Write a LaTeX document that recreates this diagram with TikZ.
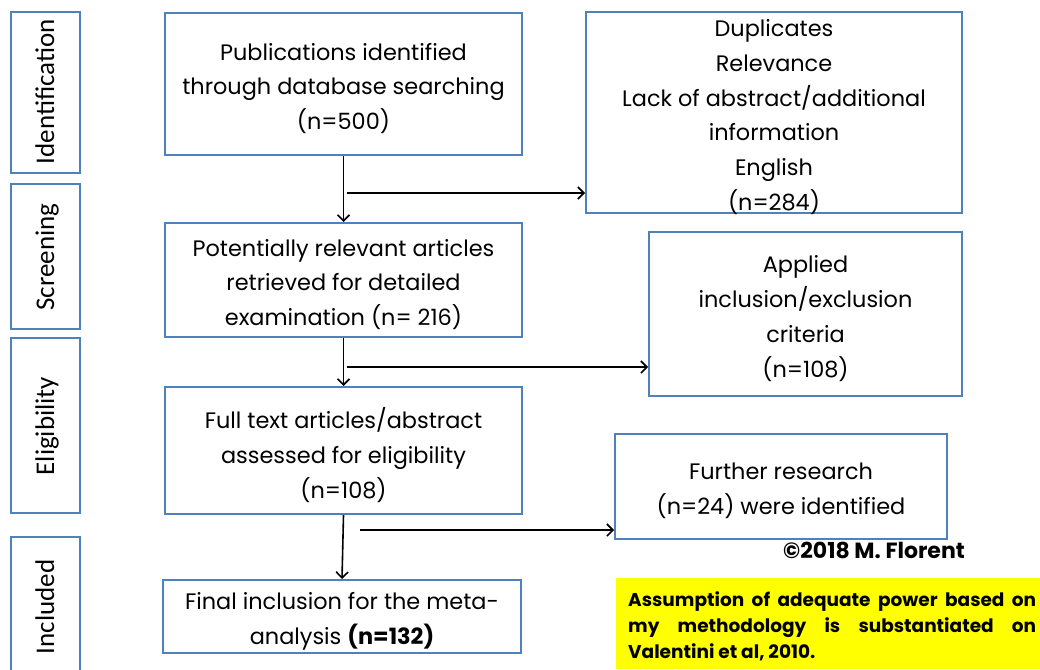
\documentclass[tikz,border=0pt]{standalone}
\usepackage{fontspec}
\setmainfont{Poppins}
\newfontfamily\labelfont{Carlito}
\usetikzlibrary{arrows.meta}
\definecolor{boxblue}{HTML}{4F81BD}
\definecolor{noteyellow}{HTML}{FFFF00}
\tikzset{
  stageframe/.style={draw=boxblue, line width=2pt},
  stagetext/.style={rotate=90, anchor=base, inner sep=0pt,
    font=\labelfont\fontsize{27}{30}\selectfont},
  flowbox/.style={draw=boxblue, line width=2pt, inner sep=0pt},
  flowtext/.style={align=center, inner sep=0pt, yshift=-4.5pt,
    font=\fontsize{22.4}{34.8}\selectfont},
  flow/.style={line width=1.6pt, -{Straight Barb[length=6pt,width=12pt,line width=1.6pt]}}
}
\begin{document}
\begin{tikzpicture}[x=1pt,y=-1pt]
\useasboundingbox (0,0) rectangle (1040,669);

% stage labels on the left
\draw[stageframe] (11,12) rectangle (80,173);
\draw[stageframe] (11,184) rectangle (80,329);
\draw[stageframe] (11,338) rectangle (80,513);
\draw[stageframe] (11,537) rectangle (80,675);
\node[stagetext] (sIdent) at (54,91.5) {Identification};
\node[stagetext] (sScreen) at (54,257) {Screening};
\node[stagetext] (sElig) at (54,426) {Eligibility};
\node[stagetext] (sIncl) at (54,607) {Included};

% main flow boxes
\node[flowbox, minimum width=357pt, minimum height=142pt] (b1) at (343.5,84) {};
\node[flowbox, minimum width=357pt, minimum height=114pt] (b2) at (343.5,280) {};
\node[flowbox, minimum width=357pt, minimum height=127pt] (b3) at (343.5,450.5) {};
\node[flowbox, minimum width=358pt, minimum height=73pt] (b4) at (342,616.5) {};
\node[flowtext] (b1t) at (b1.center)
  {Publications identified\\through database searching\\(n=500)};
\node[flowtext] (b2t) at (b2.center)
  {Potentially relevant articles\\retrieved for detailed\\examination (n= 216)};
\node[flowtext] (b3t) at (b3.center)
  {Full text articles/abstract\\assessed for eligibility\\(n=108)};
\node[flowtext] (b4t) at (b4.center)
  {Final inclusion for the meta-\\analysis {\bfseries(n=132)}};

% side boxes
\node[flowbox, minimum width=376pt, minimum height=201pt] (x1) at (774,112.5) {};
\node[flowbox, minimum width=313pt, minimum height=164pt] (x2) at (805.5,314) {};
\node[flowbox, minimum width=332pt, minimum height=105pt] (x3) at (781,486.5) {};
\node[flowtext] (x1t) at (x1.center)
  {Duplicates\\Relevance\\Lack of abstract/additional\\information\\English\\(n=284)};
\node[flowtext] (x2t) at (x2.center)
  {Applied\\inclusion/exclusion\\criteria\\(n=108)};
\node[flowtext] (x3t) at (x3.center)
  {Further research\\(n=24) were identified};

% connectors
\coordinate (h1) at (347,193);
\coordinate (h2) at (347,367);
\coordinate (h3) at (360,530);
\draw[flow] (b1.south) -- (b2.north);
\draw[flow] (b2.south) -- (b3.north);
\draw[flow] (b3.south) -- (b4.north);
\draw[flow] (h1) -- (h1 -| x1.west);
\draw[flow] (h2) -- (h2 -| x2.west);
\draw[flow] (h3) -- (h3 -| x3.west);

% credit and note
\node[font=\bfseries\fontsize{22}{24}\selectfont] (credit) at (874,550) {©2018 M. Florent};
\fill[noteyellow] (616,578) rectangle (1040,669);
\node[anchor=north west, inner sep=0pt, text width=408pt, align=justify,
  font=\bfseries\fontsize{18.5}{26}\selectfont] (note) at (628,591)
  {Assumption of adequate power based on\linebreak my methodology is substantiated on\linebreak Valentini et al, 2010.};
\end{tikzpicture}
\end{document}
